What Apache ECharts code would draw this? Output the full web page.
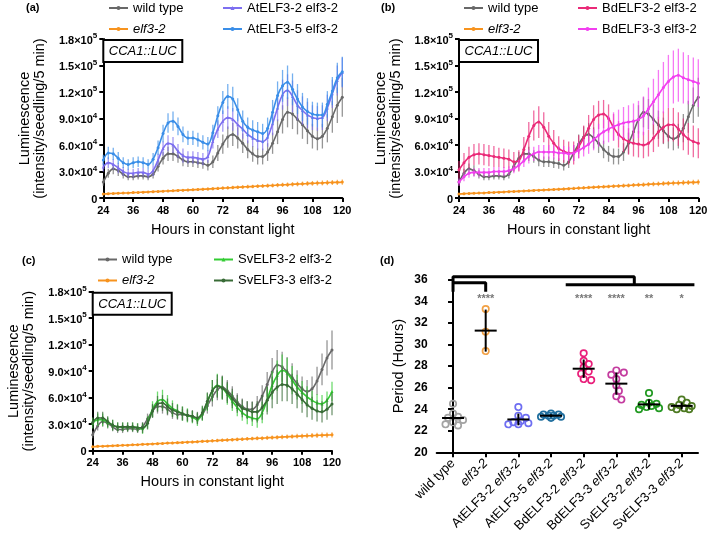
<!DOCTYPE html>
<html><head><meta charset="utf-8">
<script src="https://cdn.jsdelivr.net/npm/echarts@6/dist/echarts.min.js"></script>
<style>html,body{margin:0;padding:0;background:#fff}#c{width:709px;height:541px}</style>
</head><body><div id="c"></div>
<script>
// ---------- DATA (luminescence in thousands) ----------
const hours = [24,26,28,30,32,34,36,38,40,42,44,46,48,50,52,54,56,58,60,62,64,66,68,70,72,74,76,78,80,82,84,86,88,90,92,94,96,98,100,102,104,106,108,110,112,114,116,118,120];
const wildType = [18,28,33,31,27,24,24,25,25,24, 27,36,45,50,50,47,43,41,41,40, 39,37,41,51,61,69,72,68,62,55, 50,47,47,52,62,75,89,97,95,89, 83,76,70,67,70,79,92,105,114];
const wildTypeErr = [4,5,6,6,5,4,4,4,4,4, 5,6,7,8,8,7,7,6,6,6, 6,6,7,9,11,12,13,12,11,10, 9,9,9,10,12,14,16,17,17,17, 16,15,14,13,14,16,18,20,22];
const elf32 = [4.5,4.9,5.1,5.3,5.6,5.8,6.1,6.3,6.6,6.8, 7.2,7.4,7.7,8.0,8.2,8.6,8.8,9.1,9.3,9.7, 9.9,10.2,10.6,10.8,11.2,11.5,11.9,12.1,12.5,12.8, 13.0,13.4,13.7,14.0,14.2,14.6,14.9,15.1,15.5,15.8, 16.0,16.4,16.6,16.9,17.1,17.4,17.6,17.7,18.0];
const elf32Err = [0.8,0.8,0.9,0.9,0.9,1.0,1.0,1.0,1.1,1.1, 1.1,1.2,1.2,1.3,1.3,1.4,1.4,1.5,1.5,1.6, 1.6,1.7,1.7,1.8,1.8,1.9,1.9,2.0,2.0,2.1, 2.1,2.2,2.2,2.3,2.3,2.4,2.4,2.5,2.5,2.6, 2.6,2.7,2.7,2.8,2.8,2.9,2.9,3.0,3.0];
const atELF32 = [35,40,38,34,30,28,28,29,29,27, 31,43,56,62,60,53,48,46,46,45, 44,47,64,78,87,91,89,83,78,72, 68,65,64,69,84,102,117,122,115,105, 99,94,91,90,91,102,118,133,142];
const atELF32Err = [5,6,6,6,5,5,5,5,5,5, 6,7,8,9,9,8,8,7,7,7, 7,7,8,10,12,13,13,12,11,10, 10,10,10,11,13,15,17,18,18,17, 16,15,14,14,14,15,16,17,17];
const atELF35 = [43,51,50,45,40,38,40,41,40,38, 44,57,73,85,87,81,72,68,68,66, 63,61,74,93,108,115,112,100,87,80, 77,75,73,79,97,116,127,131,123,112, 103,98,95,94,94,106,121,136,143];
const atELF35Err = [6,7,7,7,6,6,6,6,6,6, 7,8,10,11,11,10,9,8,8,8, 8,8,9,11,13,14,14,13,12,11, 11,11,11,12,14,16,18,19,18,17, 16,15,14,14,14,15,16,17,17];
const bdELF32 = [32,40,46,49,50,49,48,47,46,45, 44,41,42,55,70,82,86,80,70,62, 56,53,51,51,58,68,79,89,94,95, 90,80,72,67,64,62,61,60,62,68, 75,80,83,83,78,72,67,64,62];
const bdELF32Err = [10,11,12,12,12,12,12,12,11,11, 11,11,12,14,16,17,18,17,16,15, 14,13,13,13,13,14,15,16,16,16, 16,15,15,15,15,15,15,15,15,16, 17,18,19,19,19,18,18,18,17];
const bdELF33 = [18,24,28,29,29,29,29,30,30,30, 31,33,37,42,47,50,52,52,52,52, 51,51,50,51,54,57,61,66,71,75, 78,81,83,85,86,87,89,93,101,109, 117,125,132,137,139,136,134,132,130];
const bdELF33Err = [4,5,5,5,5,5,5,5,5,5, 5,5,6,7,8,8,8,8,8,8, 8,8,8,9,9,10,11,12,13,14, 15,16,17,18,19,20,21,22,24,26, 28,29,30,30,30,29,28,27,27];
const svELF32 = [31,35,35,32,29,27,27,27,27,26, 25,32,47,56,58,53,48,45,42,40, 38,35,42,55,68,74,71,64,56,49, 43,39,37,36,43,58,74,85,91,88, 80,72,66,61,57,54,53,57,67];
const svELF32Err = [6,7,7,6,6,5,5,5,5,5, 6,7,9,11,11,10,9,8,8,8, 7,7,8,10,12,13,13,12,11,10, 9,9,9,10,12,14,16,17,18,17, 16,14,13,12,11,10,10,10,11];
const svELF33 = [32,37,37,33,29,27,27,27,27,26, 26,31,45,53,54,50,46,44,42,40, 39,37,43,56,68,73,71,66,59,53, 48,46,44,44,49,57,66,72,75,74, 70,64,58,52,48,45,44,47,53];
const svELF33Err = [6,7,7,6,6,5,5,5,5,5, 6,7,8,9,9,9,8,8,8,7, 7,7,8,10,12,13,13,12,11,10, 10,10,11,12,14,16,18,19,19,18, 17,16,15,14,13,12,12,12,13];

const lumTickMant = ['0','3.0','6.0','9.0','1.2','1.5','1.8'];
const lumTickExp  = ['','4','4','4','5','5','5'];

// period panel (d)
const periodCats = ['wild type','elf3-2','AtELF3-2 elf3-2','AtELF3-5 elf3-2','BdELF3-2 elf3-2','BdELF3-3 elf3-2','SvELF3-2 elf3-2','SvELF3-3 elf3-2'];
const periodWT  = [24.5,23.6,23.3,23.2,23.0,22.8,22.6,22.5];
const periodElf = [33.3,31.2,29.4];
const periodAt2 = [24.2,23.4,23.2,22.9,22.8,22.7,22.6,22.6];
const periodAt5 = [23.6,23.5,23.5,23.4,23.4,23.3,23.3,23.2];
const periodBd2 = [29.2,28.5,28.2,27.9,27.5,27.3,26.8,26.7];
const periodBd3 = [27.6,27.4,27.2,26.8,26.2,25.7,25.2,24.9];
const periodSv2 = [25.5,24.6,24.5,24.4,24.3,24.2,24.1,24.0];
const periodSv3 = [24.9,24.6,24.4,24.3,24.2,24.1,24.0,24.0];
const starLabels = ['','****','','','****','****','**','*'];
const bracketPaths = [
  [[0,34.9],[0,36.3],[5.55,36.3],[5.55,35.55]],
  [[0,35.75],[1,35.75],[1,34.9]],
  [[3.45,35.55],[7.39,35.55]]
];

// ---------- STYLE ----------
const FONT = 'Liberation Sans, Arial, Helvetica, sans-serif';
const meta = {
  'wild type':       {v: wildType, e: wildTypeErr, color:'#686868', sym:'circle'},
  'elf3-2':          {v: elf32,    e: elf32Err,    color:'#f7931e', sym:'circle'},
  'AtELF3-2 elf3-2': {v: atELF32,  e: atELF32Err,  color:'#7d6ff0', sym:'triangle'},
  'AtELF3-5 elf3-2': {v: atELF35,  e: atELF35Err,  color:'#3a8ee8', sym:'circle'},
  'BdELF3-2 elf3-2': {v: bdELF32,  e: bdELF32Err,  color:'#ea2a78', sym:'circle'},
  'BdELF3-3 elf3-2': {v: bdELF33,  e: bdELF33Err,  color:'#f23ff0', sym:'circle'},
  'SvELF3-2 elf3-2': {v: svELF32,  e: svELF32Err,  color:'#33cc33', sym:'triangle'},
  'SvELF3-3 elf3-2': {v: svELF33,  e: svELF33Err,  color:'#386b36', sym:'circle'}
};
const panels = [
  ['wild type','elf3-2','AtELF3-2 elf3-2','AtELF3-5 elf3-2'],
  ['wild type','elf3-2','BdELF3-2 elf3-2','BdELF3-3 elf3-2'],
  ['wild type','elf3-2','SvELF3-2 elf3-2','SvELF3-3 elf3-2']
];
const periodGroups = [periodWT,periodElf,periodAt2,periodAt5,periodBd2,periodBd3,periodSv2,periodSv3];
const groupColors = ['#a3a3a3','#f2a145','#6e6ef2','#1f6e9e','#e91e7a','#c43b9f','#239a23','#4d7a22'];

const grids = [
  {left:103.3, top:39, width:239, height:159},
  {left:459, top:39, width:239.3, height:159},
  {left:92.7, top:291.7, width:239.3, height:159},
  {left:436.7, top:280, width:261.3, height:172.3}
].map(g => Object.assign({containLabel:false, outerBoundsMode:'none'}, g));

const axisLineBlack = {show:true, lineStyle:{color:'#000', width:2}};
const tickBlack = {show:true, length:4, lineStyle:{color:'#000', width:2}};

const xAxes = [], yAxes = [];
for (let p=0;p<3;p++){
  xAxes.push({type:'value', gridIndex:p, min:24, max:120, interval:12,
    axisLine:axisLineBlack, axisTick:tickBlack, splitLine:{show:false},
    axisLabel:{fontFamily:FONT, fontSize:11, fontWeight:'bold', color:'#000', margin:7},
    name:'Hours in constant light', nameLocation:'middle', nameGap:24,
    nameTextStyle:{fontFamily:FONT, fontSize:14.5, color:'#000'}});
  yAxes.push({type:'value', gridIndex:p, min:0, max:180, interval:30,
    axisLine:axisLineBlack, axisTick:tickBlack, splitLine:{show:false},
    axisLabel:{margin:6, formatter:(v,i)=> i===0 ? '{m|0}' : `{m|${lumTickMant[i]}×10}{e|${lumTickExp[i]}}`,
      rich:{m:{fontFamily:FONT, fontSize:11, fontWeight:'bold', color:'#000', lineHeight:14, verticalAlign:'bottom'},
            e:{fontFamily:FONT, fontSize:8, fontWeight:'bold', color:'#000', lineHeight:14, verticalAlign:'top', padding:[0,0,6,0]}}},
    name:'Luminescence\n(intensity/seedling/5 min)', nameLocation:'middle', nameGap:56,
    nameTextStyle:{fontFamily:FONT, fontSize:14.5, color:'#000', lineHeight:15}});
}
// panel d
const catFmt = v => v === 'elf3-2' ? '{i|elf3-2}' : (v.endsWith(' elf3-2') ? `{n|${v.slice(0,-7)} }{i|elf3-2}` : `{n|${v}}`);
xAxes.push({type:'category', gridIndex:3, data:periodCats, boundaryGap:true,
  axisLine:axisLineBlack, axisTick:{show:true, alignWithLabel:true, length:5, lineStyle:{color:'#000', width:2}},
  axisLabel:{rotate:45, margin:9, interval:0, formatter:catFmt,
    rich:{n:{fontFamily:FONT, fontSize:13, color:'#000'}, i:{fontFamily:FONT, fontSize:13, color:'#000', fontStyle:'italic'}}}});
xAxes.push({type:'value', gridIndex:3, min:-0.5, max:7.5, show:false});
yAxes.push({type:'value', gridIndex:3, min:20, max:36, interval:2,
  axisLine:axisLineBlack, axisTick:{show:true, length:5, lineStyle:{color:'#000', width:2}}, splitLine:{show:false},
  axisLabel:{fontFamily:FONT, fontSize:12, fontWeight:'bold', color:'#000', margin:9},
  name:'Period (Hours)', nameLocation:'middle', nameGap:30,
  nameTextStyle:{fontFamily:FONT, fontSize:14.5, color:'#000'}});

function errRender(params, api){
  const x = api.value(0), lo = api.value(1), hi = api.value(2);
  const p1 = api.coord([x, lo]), p2 = api.coord([x, hi]);
  return {type:'line', shape:{x1:p1[0], y1:p1[1], x2:p2[0], y2:p2[1]},
    style:{stroke:api.visual('color'), lineWidth:1.3, opacity:0.7}};
}

const series = [];
panels.forEach((keys, p) => {
  keys.forEach((k, j) => {
    const m = meta[k];
    series.push({type:'custom', name:'_err_'+k, xAxisIndex:p, yAxisIndex:p, z:2+2*j,
      renderItem:errRender, encode:{x:0, y:[1,2]}, itemStyle:{color:m.color}, silent:true,
      data: hours.map((h,i)=>[h, m.v[i]-m.e[i], m.v[i]+m.e[i]])});
    series.push({type:'line', name:k, xAxisIndex:p, yAxisIndex:p, z:3+2*j, smooth:0.35,
      symbol:m.sym, symbolSize:3, showSymbol:true, color:m.color,
      lineStyle:{width:1.6, color:m.color}, itemStyle:{color:m.color},
      data: hours.map((h,i)=>[h, m.v[i]])});
  });
});

// panel d: points with a compact beeswarm (overlap allowed, spread capped)
const swarmCache = {};
function pointRender(params, api){
  const g = api.value(0), k = api.value(2);
  if (!swarmCache[g]) {
    const vals = periodGroups[g];
    const ys = vals.map(v => api.coord([g, v])[1]);
    const placed = [], offs = [];
    const D = 5.5, STEP = 2.5, MAXOFF = 10;
    ys.forEach(y => {
      let best = 0, bestScore = -1;
      for (let s=0; s<30; s++){
        const cand = s===0 ? 0 : (s%2 ? 1 : -1) * Math.ceil(s/2) * STEP;
        if (Math.abs(cand) > MAXOFF) continue;
        const dmin = placed.length ? Math.min(...placed.map(q => Math.hypot(q[0]-cand, q[1]-y))) : 99;
        if (dmin >= D) { best = cand; bestScore = 999; break; }
        if (dmin > bestScore) { bestScore = dmin; best = cand; }
      }
      placed.push([best, y]); offs.push(best);
    });
    swarmCache[g] = offs;
  }
  const c = api.coord([g, api.value(1)]);
  return {type:'circle', shape:{cx:c[0]+swarmCache[g][k], cy:c[1], r:3.2},
    style:{fill:'none', stroke:groupColors[g], lineWidth:1.7}};
}
const pointData = [];
periodGroups.forEach((arr, g) => arr.forEach((v, k) => pointData.push([g, v, k])));
series.push({type:'custom', xAxisIndex:4, yAxisIndex:3, renderItem:pointRender, data:pointData, z:5, silent:true, clip:false});

function stats(a){ const m = a.reduce((s,x)=>s+x,0)/a.length; const sd = Math.sqrt(a.reduce((s,x)=>s+(x-m)*(x-m),0)/(a.length-1)); return [m, sd]; }
const statData = periodGroups.map((a,g)=>{ const [m,sd]=stats(a); return [g, m, sd]; });
series.push({type:'custom', xAxisIndex:4, yAxisIndex:3, z:6, silent:true, data:statData,
  renderItem:(params, api)=>{
    const g = api.value(0), m = api.value(1), sd = api.value(2);
    const c = api.coord([g, m]), top = api.coord([g, m+sd]), bot = api.coord([g, m-sd]);
    return {type:'group', children:[
      {type:'line', shape:{x1:c[0]-11, y1:c[1], x2:c[0]+11, y2:c[1]}, style:{stroke:'#000', lineWidth:2}},
      {type:'line', shape:{x1:c[0], y1:top[1], x2:c[0], y2:bot[1]}, style:{stroke:'#000', lineWidth:2}}
    ]};
  }});
bracketPaths.forEach(path => series.push({type:'line', xAxisIndex:4, yAxisIndex:3, data:path, symbol:'none',
  clip:false, silent:true, z:7, lineStyle:{color:'#000', width:3}, itemStyle:{color:'#000'}}));
series.push({type:'scatter', xAxisIndex:4, yAxisIndex:3, symbolSize:0, silent:true, z:8,
  data: starLabels.map((s,i)=>({value:[i, 34.2], name:s})).filter(d=>d.name),
  label:{show:true, position:'inside', formatter:p=>p.name, fontFamily:FONT, fontSize:11, fontWeight:'bold', color:'#555'}});

// legends
const legFmt = n => n === 'elf3-2' ? '{i|elf3-2}' : n;
function legend(left, top, data){
  return {left, top, orient:'vertical', data, itemWidth:19, itemHeight:5, itemGap:7, padding:0,
    selectedMode:false, formatter:legFmt,
    textStyle:{fontFamily:FONT, fontSize:13, color:'#000', lineHeight:14,
      rich:{i:{fontFamily:FONT, fontSize:13, fontStyle:'italic', color:'#000', lineHeight:14}}}};
}
const legends = [
  legend(108, 1, ['wild type','elf3-2']), legend(222, 1, ['AtELF3-2 elf3-2','AtELF3-5 elf3-2']),
  legend(463, 1, ['wild type','elf3-2']), legend(577, 1, ['BdELF3-2 elf3-2','BdELF3-3 elf3-2']),
  legend(97, 252.5, ['wild type','elf3-2']), legend(213, 252.5, ['SvELF3-2 elf3-2','SvELF3-3 elf3-2'])
];

const chart = echarts.init(document.getElementById('c'));
chart.setOption({
  animation:false, backgroundColor:'#fff',
  grid:grids, xAxis:xAxes, yAxis:yAxes, series, legend:legends
});

// annotations: panel labels and CCA1::LUC boxes
const g = [];
[['(a)',26,2],['(b)',381,2],['(c)',22,255],['(d)',380,255]].forEach(([t,x,y])=>{
  g.push({type:'text', x, y, style:{text:t, font:'bold 11px '+FONT, fill:'#000'}, z:100});
});
[0,1,2].forEach(gi=>{
  const p = chart.convertToPixel({gridIndex:gi}, [24, 180]);
  g.push({type:'rect', shape:{x:p[0], y:p[1]+1, width:79, height:22}, style:{fill:'#fff', stroke:'#000', lineWidth:2}, z:100});
  g.push({type:'text', x:p[0]+39.5, y:p[1]+12.5, style:{text:'CCA1::LUC', font:'italic 13px '+FONT, fill:'#000',
    textAlign:'center', textVerticalAlign:'middle', align:'center', verticalAlign:'middle'}, z:101});
});
chart.setOption({graphic:{elements:g}});
</script></body></html>
